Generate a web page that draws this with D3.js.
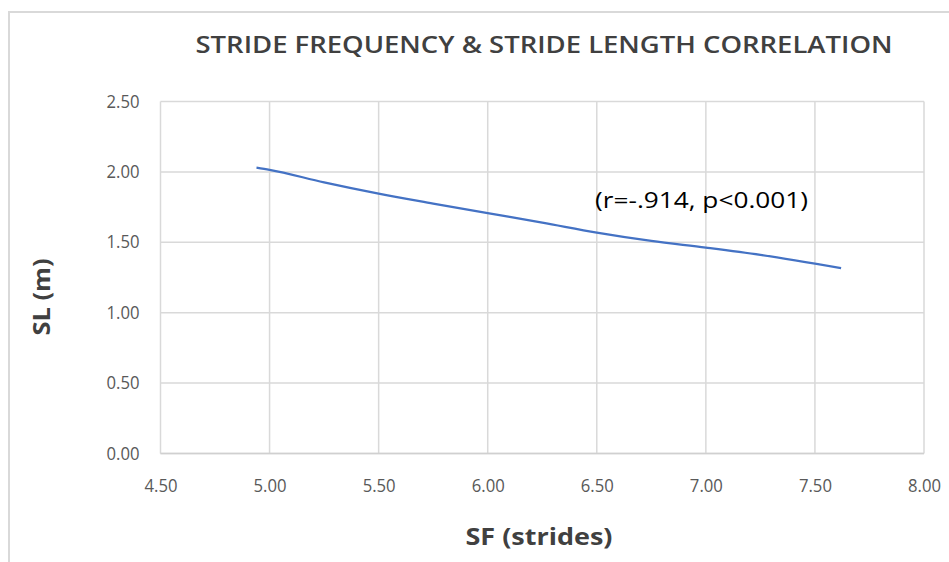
<!DOCTYPE html>
<html><head><meta charset="utf-8">
<script src="https://cdn.jsdelivr.net/npm/d3@7"></script>
<style>body{margin:0;background:#fff}svg{display:block}</style>
</head><body>
<svg id="c" width="949" height="562"></svg>
<script>
const sfValues = [4.94, 5.00, 5.25, 5.50, 5.75, 6.00, 6.25, 6.50, 6.75, 7.00, 7.25, 7.62];
const slValues = [2.03, 2.015, 1.925, 1.845, 1.775, 1.707, 1.64, 1.569, 1.51, 1.462, 1.41, 1.316];
const xTicks = [4.5, 5.0, 5.5, 6.0, 6.5, 7.0, 7.5, 8.0];
const yTicks = [0, 0.5, 1.0, 1.5, 2.0, 2.5];
const titleText = "STRIDE FREQUENCY & STRIDE LENGTH CORRELATION";
const xTitle = "SF (strides)";
const yTitle = "SL (m)";
const annotation = "(r=-.914, p<0.001)";

const svg = d3.select("#c");
const L = 160.5, R = 924, T = 101.5, B = 453.5;
const x = d3.scaleLinear().domain([4.5, 8.0]).range([L, R]);
const y = d3.scaleLinear().domain([0, 2.5]).range([B, T]);
const font = "'Open Sans', 'Noto Sans', sans-serif";

// outer chart border
svg.append("rect").attr("x", 9).attr("y", 12).attr("width", 1000).attr("height", 600)
  .attr("fill", "#fff").attr("stroke", "#d9d9d9").attr("stroke-width", 2);

// title
svg.append("text").attr("x", 544).attr("y", 53).attr("text-anchor", "middle")
  .attr("font-family", font).attr("font-weight", 600).attr("font-size", 23.5)
  .attr("fill", "#404040").attr("textLength", 697).attr("lengthAdjust", "spacingAndGlyphs")
  .text(titleText);

// gridlines
const g = svg.append("g");
g.selectAll(".hy").data(yTicks).join("line")
  .attr("x1", L).attr("x2", R).attr("y1", d => y(d)).attr("y2", d => y(d))
  .attr("stroke", "#d9d9d9").attr("stroke-width", 1.5);
g.selectAll(".vx").data(xTicks).join("line")
  .attr("y1", T).attr("y2", B).attr("x1", d => x(d)).attr("x2", d => x(d))
  .attr("stroke", "#d9d9d9").attr("stroke-width", 1.5);

// axes via d3 axis generators (labels only)
const xAxis = svg.append("g").attr("transform", `translate(0,${B})`)
  .call(d3.axisBottom(x).tickValues(xTicks).tickFormat(d3.format(".2f")).tickSize(0).tickPadding(26));
const yAxis = svg.append("g").attr("transform", `translate(${L},0)`)
  .call(d3.axisLeft(y).tickValues(yTicks).tickFormat(d3.format(".2f")).tickSize(0).tickPadding(21));
[xAxis, yAxis].forEach(a => {
  a.select(".domain").remove();
  a.selectAll("text").attr("font-family", font).attr("font-size", 17.5).attr("fill", "#595959")
    .attr("textLength", 33).attr("lengthAdjust", "spacingAndGlyphs");
});
svg.append("line").attr("x1", L).attr("x2", R).attr("y1", B).attr("y2", B)
  .attr("stroke", "#d0d0d0").attr("stroke-width", 1.5);

// data line
const line = d3.line().x((d, i) => x(sfValues[i])).y(d => y(d)).curve(d3.curveMonotoneX);
svg.append("path").datum(slValues).attr("d", line)
  .attr("fill", "none").attr("stroke", "#4472c4").attr("stroke-width", 2.25);

// annotation
svg.append("text").attr("x", 595).attr("y", 208)
  .attr("font-family", font).attr("font-size", 21).attr("fill", "#000")
  .attr("textLength", 213).attr("lengthAdjust", "spacingAndGlyphs")
  .text(annotation);

// axis titles
svg.append("text").attr("x", 539).attr("y", 545).attr("text-anchor", "middle")
  .attr("font-family", font).attr("font-weight", 700).attr("font-size", 24).attr("fill", "#404040")
  .attr("textLength", 147).attr("lengthAdjust", "spacingAndGlyphs")
  .text(xTitle);
svg.append("text").attr("transform", "translate(50,297) rotate(-90)").attr("text-anchor", "middle")
  .attr("font-family", font).attr("font-weight", 700).attr("font-size", 24).attr("fill", "#404040")
  .attr("textLength", 77).attr("lengthAdjust", "spacingAndGlyphs")
  .text(yTitle);
</script>
</body></html>
